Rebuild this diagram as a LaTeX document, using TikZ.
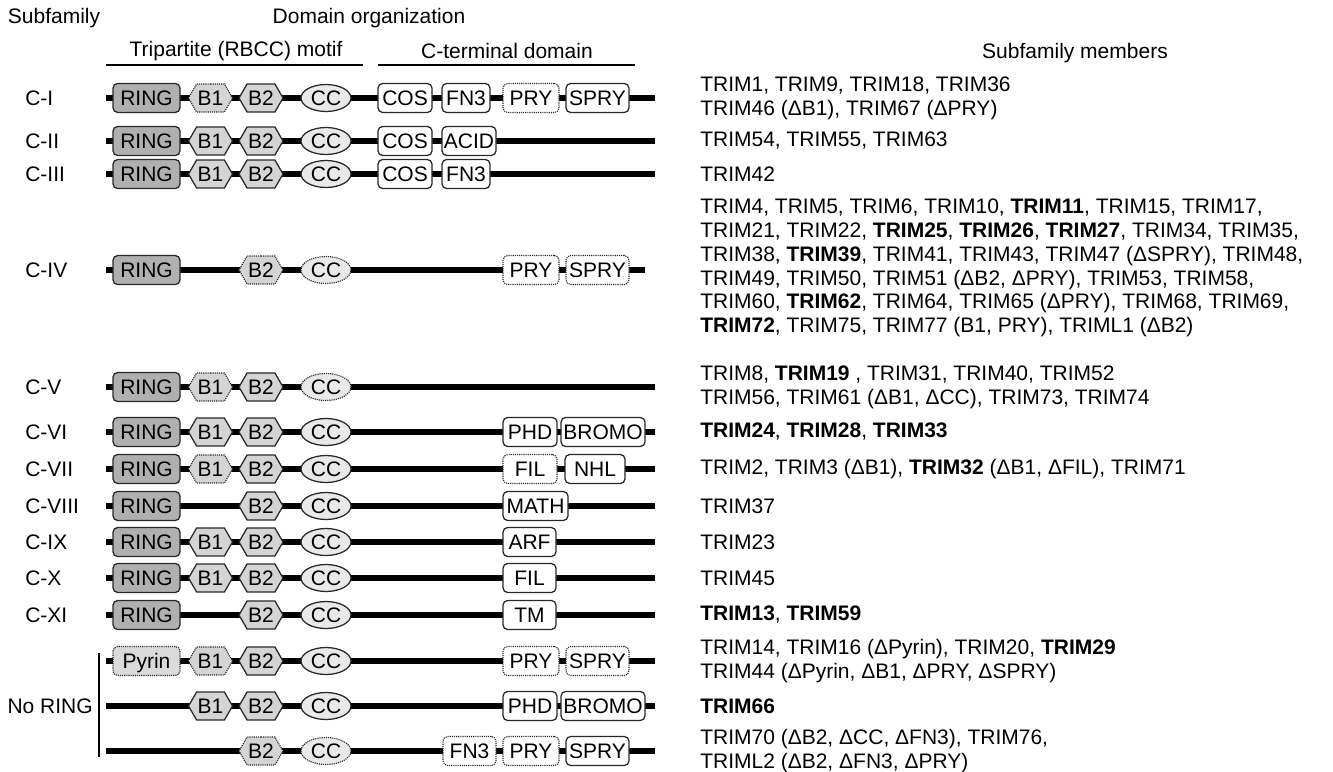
\documentclass[tikz,border=0pt]{standalone}
\usepackage{fontspec}
\setmainfont{Liberation Sans}
\usetikzlibrary{shapes.geometric,shapes.symbols}
\definecolor{ringc}{RGB}{176,176,176}
\definecolor{hexc}{RGB}{212,212,212}
\definecolor{ccc}{RGB}{233,233,233}
\definecolor{pyrc}{RGB}{218,218,218}
\definecolor{edgec}{RGB}{40,40,40}
\newcommand\mkring[2]{\node[ringbox] (#1ring) at (146.5,#2) {RING};}
\newcommand\mkbone[3][]{\node[hexb,#1] (#2bone) at (210.5,#3) {B1};}
\newcommand\mkbtwo[3][]{\node[hexb,#1] (#2btwo) at (261,#3) {B2};}
\newcommand\mkcoil[3][]{\node[ccell,#1] (#2cc) at (326,#3) {CC};}
\newcommand\mkbox[6][]{\node[ctbox,#1,minimum width={(#4-#3)*0.75pt}] (#2) at ({(#3+#4)/2},#5) {#6};}
\newcommand\mkline[3]{\coordinate (#1s) at (106,#2); \coordinate (#1e) at (#3,#2); \draw[bb] (#1s) -- (#1e);}
\begin{document}
\begin{tikzpicture}[x=0.75pt,y=-0.75pt,
  every node/.style={font=\fontsize{15.75}{17.8}\selectfont, inner sep=0pt},
  bb/.style={line width=4.5pt},
  dom/.style={draw=edgec, line width=0.95pt, text height=11.2pt, text depth=0pt, minimum height=21.75pt},
  dotb/.style={line width=0.85pt, dash pattern=on 0.85pt off 0.75pt},
  ringbox/.style={dom, fill=ringc, rounded corners=3.5pt, minimum width=50.25pt},
  pyrbox/.style={dom, fill=pyrc, rounded corners=3.5pt, minimum width=50.25pt},
  ctbox/.style={dom, fill=white, rounded corners=3.5pt},
  hexb/.style={dom, signal, signal to=east and west, signal pointer angle=120, fill=hexc, minimum width=33pt, minimum height=21pt},
  ccell/.style={dom, ellipse, fill=ccc, minimum width=37.5pt, minimum height=20.25pt},
  lab/.style={anchor=west},
  mem/.style={anchor=west, align=left},
  rule/.style={line width=0.9pt}
]
\useasboundingbox (0,0) rectangle (1333,771);

% headers
\node (hsub) at (54,18) {Subfamily};
\node (hdom) at (369,18) {Domain organization};
\node (htri) at (236,51) {Tripartite (RBCC) motif};
\node (hct) at (507,51) {C-terminal domain};
\node (hmem) at (1075,53) {Subfamily members};
\coordinate (u1a) at (106,65); \coordinate (u1b) at (363,65);
\coordinate (u2a) at (378,65); \coordinate (u2b) at (635,65);
\draw[rule] (u1a) -- (u1b);
\draw[rule] (u2a) -- (u2b);

% C-I
\mkline{a}{98}{655}
\mkring{a}{98} \mkbone[dotb]{a}{98} \mkbtwo{a}{98} \mkcoil{a}{98}
\mkbox{acos}{378}{432}{98}{COS}
\mkbox{afn}{442}{490}{98}{FN3}
\mkbox[dotb]{apry}{503}{559}{98}{PRY}
\mkbox{aspry}{566}{629}{98}{SPRY}
\node[lab] (la) at (25,98) {C-I};
\node[mem] (ma) at (700,98) {TRIM1, TRIM9, TRIM18, TRIM36\\TRIM46 (ΔB1), TRIM67 (ΔPRY)};

% C-II
\mkline{b}{141}{655}
\mkring{b}{141} \mkbone{b}{141} \mkbtwo{b}{141} \mkcoil{b}{141}
\mkbox{bcos}{378}{432}{141}{COS}
\mkbox{bacid}{442}{496}{141}{ACID}
\node[lab] (lb) at (25,141) {C-II};
\node[mem] (mb) at (700,141) {TRIM54, TRIM55, TRIM63};

% C-III
\mkline{c}{174}{655}
\mkring{c}{174} \mkbone{c}{174} \mkbtwo{c}{174} \mkcoil{c}{174}
\mkbox{ccos}{378}{432}{174}{COS}
\mkbox{cfn}{442}{490}{174}{FN3}
\node[lab] (lc) at (25,174) {C-III};
\node[mem] (mc) at (700,174) {TRIM42};

% C-IV
\mkline{d}{270}{645}
\mkring{d}{270} \mkbtwo[dotb]{d}{270} \mkcoil[dotb]{d}{270}
\mkbox[dotb]{dpry}{503}{559}{270}{PRY}
\mkbox[dotb]{dspry}{566}{629}{270}{SPRY}
\node[lab] (ld) at (25,270) {C-IV};
\node[mem] (md) at (700,268) {TRIM4, TRIM5, TRIM6, TRIM10, \textbf{TRIM11}, TRIM15, TRIM17,\\
TRIM21, TRIM22, \textbf{TRIM25}, \textbf{TRIM26}, \textbf{TRIM27}, TRIM34, TRIM35,\\
TRIM38, \textbf{TRIM39}, TRIM41, TRIM43, TRIM47 (ΔSPRY), TRIM48,\\
TRIM49, TRIM50, TRIM51 (ΔB2, ΔPRY), TRIM53, TRIM58,\\
TRIM60, \textbf{TRIM62}, TRIM64, TRIM65 (ΔPRY), TRIM68, TRIM69,\\
\textbf{TRIM72}, TRIM75, TRIM77 (B1, PRY), TRIML1 (ΔB2)};

% C-V
\mkline{e}{387}{655}
\mkring{e}{387} \mkbone[dotb]{e}{387} \mkbtwo{e}{387} \mkcoil[dotb]{e}{387}
\node[lab] (le) at (25,387) {C-V};
\node[mem] (me) at (700,387) {TRIM8, \textbf{TRIM19} , TRIM31, TRIM40, TRIM52\\TRIM56, TRIM61 (ΔB1, ΔCC), TRIM73, TRIM74};

% C-VI
\mkline{f}{432}{655}
\mkring{f}{432} \mkbone{f}{432} \mkbtwo{f}{432} \mkcoil{f}{432}
\mkbox{fphd}{503}{557}{432}{PHD}
\mkbox{fbromo}{561}{645}{432}{BROMO}
\node[lab] (lf) at (25,432) {C-VI};
\node[mem] (mf) at (700,432) {\textbf{TRIM24}, \textbf{TRIM28}, \textbf{TRIM33}};

% C-VII
\mkline{g}{469}{655}
\mkring{g}{469} \mkbone[dotb]{g}{469} \mkbtwo{g}{469} \mkcoil{g}{469}
\mkbox[dotb]{gfil}{503}{557}{469}{FIL}
\mkbox{gnhl}{565}{625}{469}{NHL}
\node[lab] (lg) at (25,469) {C-VII};
\node[mem] (mg) at (700,469) {TRIM2, TRIM3 (ΔB1), \textbf{TRIM32} (ΔB1, ΔFIL), TRIM71};

% C-VIII
\mkline{h}{506}{655}
\mkring{h}{506} \mkbtwo{h}{506} \mkcoil{h}{506}
\mkbox{hmath}{503}{568}{506}{MATH}
\node[lab] (lh) at (25,506) {C-VIII};
\node[mem] (mh) at (700,506) {TRIM37};

% C-IX
\mkline{i}{542}{655}
\mkring{i}{542} \mkbone{i}{542} \mkbtwo{i}{542} \mkcoil{i}{542}
\mkbox{iarf}{503}{556}{542}{ARF}
\node[lab] (li) at (25,542) {C-IX};
\node[mem] (mi) at (700,542) {TRIM23};

% C-X
\mkline{j}{578}{655}
\mkring{j}{578} \mkbone{j}{578} \mkbtwo{j}{578} \mkcoil{j}{578}
\mkbox{jfil}{503}{556}{578}{FIL}
\node[lab] (lj) at (25,578) {C-X};
\node[mem] (mj) at (700,578) {TRIM45};

% C-XI
\mkline{k}{615}{655}
\mkring{k}{615} \mkbtwo{k}{615} \mkcoil{k}{615}
\mkbox{ktm}{503}{556}{615}{TM}
\node[lab] (lk) at (25,615) {C-XI};
\node[mem] (mk) at (700,615) {\textbf{TRIM13}, \textbf{TRIM59}};

% No RING 1
\mkline{l}{661}{655}
\node[pyrbox,dotb] (lpyr) at (146.5,661) {Pyrin};
\mkbone[dotb]{l}{661} \mkbtwo{l}{661} \mkcoil{l}{661}
\mkbox[dotb]{lpry}{503}{559}{661}{PRY}
\mkbox[dotb]{lspry}{566}{629}{661}{SPRY}
\node[mem] (ml) at (700,661) {TRIM14, TRIM16 (ΔPyrin), TRIM20, \textbf{TRIM29}\\TRIM44 (ΔPyrin, ΔB1, ΔPRY, ΔSPRY)};

% No RING 2
\mkline{m}{706}{655}
\mkbone{m}{706} \mkbtwo{m}{706} \mkcoil{m}{706}
\mkbox{mphd}{503}{557}{706}{PHD}
\mkbox{mbromo}{561}{645}{706}{BROMO}
\node[mem] (mm) at (700,706) {\textbf{TRIM66}};

% No RING 3
\mkline{n}{751}{655}
\mkbtwo[dotb]{n}{751} \mkcoil[dotb]{n}{751}
\mkbox[dotb]{nfn}{443}{496}{751}{FN3}
\mkbox[dotb]{npry}{503}{559}{751}{PRY}
\mkbox{nspry}{566}{629}{751}{SPRY}
\node[mem] (mn) at (700,751) {TRIM70 (ΔB2, ΔCC, ΔFN3), TRIM76,\\TRIML2 (ΔB2, ΔFN3, ΔPRY)};

% No RING label and bracket
\node[anchor=east] (lnr) at (93,706) {No RING};
\coordinate (bra) at (99,653); \coordinate (brb) at (99,757);
\draw[rule] (bra) -- (brb);
\end{tikzpicture}
\end{document}
